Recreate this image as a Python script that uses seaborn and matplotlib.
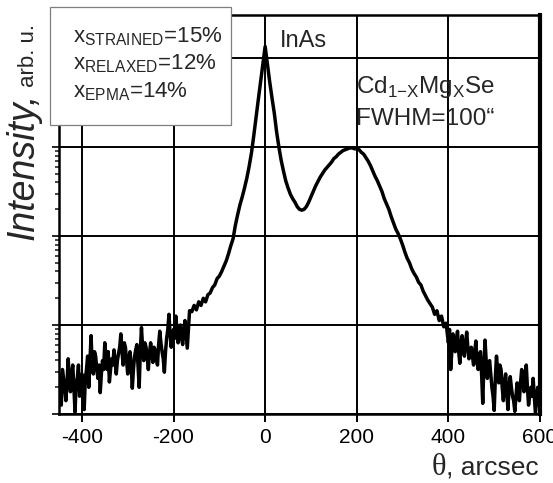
import numpy as np
import matplotlib
matplotlib.use("Agg")
import matplotlib.pyplot as plt
import seaborn as sns
from matplotlib.patches import Rectangle

# ---------------- data ----------------
# log10(intensity), in three scan segments
left_start, left_step = -450.0, 2.5
log_left_noise = [
    0.45, 0.25, 0.10, 0.50, 0.40, 0.30, 0.15, 0.35, 0.62, 0.40,
    0.25, 0.45, 0.55, 0.30, 0.02, 0.35, 0.40, 0.55, 0.20, 0.35,
    0.45, 0.25, 0.05, 0.40, 0.50, 0.65, 0.30, 0.60, 0.88, 0.55,
    0.45, 0.70, 0.65, 0.50, 0.40, 0.55, 0.24, 0.45, 0.60, 0.50,
    0.80, 0.65, 0.50, 0.70, 0.36, 0.50, 0.62, 0.55, 0.72, 0.60,
    0.45, 0.60, 0.68, 0.75, 0.90, 0.70, 0.55, 0.80, 0.75, 0.60,
    0.45, 0.62, 0.70, 0.55, 0.29, 0.50, 0.65, 0.72, 0.78, 0.55,
    0.30, 0.70, 0.97, 0.75, 0.60, 0.80, 0.75, 0.65, 0.50, 0.68,
    0.80, 0.70, 0.58, 0.75, 0.72, 0.62, 0.55, 0.78, 0.93, 0.80,
    0.70, 0.62, 0.47, 0.70, 0.85, 0.95, 1.12, 0.90, 0.75, 0.88,
    0.95, 0.85, 1.10, 0.95, 0.80, 0.92, 1.00, 0.85, 0.78, 0.95,
    1.05, 0.90, 0.74, 0.95, 1.16,
]
mid_start, mid_step = -160.0, 5.0
log_peaks = [
    1.15, 1.22, 1.17, 1.26, 1.22, 1.30, 1.26, 1.34, 1.36, 1.42,
    1.45, 1.52, 1.55, 1.60, 1.66, 1.72, 1.80, 1.89, 1.97, 2.12,
    2.24, 2.35, 2.44, 2.54, 2.65, 2.78, 2.93, 3.12, 3.33, 3.53,
    3.73, 3.93, 4.13,
    3.93, 3.73, 3.55, 3.38, 3.17, 3.00, 2.85, 2.73, 2.62, 2.54,
    2.47, 2.42, 2.38, 2.33, 2.30, 2.29, 2.30, 2.33, 2.38, 2.44,
    2.50, 2.56, 2.61, 2.66, 2.70, 2.74, 2.77, 2.80, 2.83, 2.87,
    2.89, 2.92, 2.94, 2.96, 2.97, 2.98, 2.99, 2.99, 2.98, 2.98,
    2.97, 2.94, 2.92, 2.88, 2.84, 2.79, 2.73, 2.67, 2.62, 2.56,
    2.50, 2.42, 2.36, 2.30, 2.22, 2.15, 2.08, 2.03, 1.97, 1.90,
    1.82, 1.75, 1.70, 1.63, 1.58, 1.54, 1.48, 1.45, 1.38, 1.33,
    1.28, 1.24, 1.20, 1.12, 1.16, 1.05, 1.10, 0.98, 1.02,
]
right_start, right_step = 400.0, 2.5
log_right_noise = [
    0.80, 0.95, 0.50, 0.70, 0.90, 0.75, 0.70, 0.85, 0.93, 0.70,
    0.57, 0.80, 0.88, 0.72, 0.65, 0.80, 0.92, 0.75, 0.62, 0.70,
    0.75, 0.65, 0.55, 0.70, 0.82, 0.60, 0.50, 0.65, 0.70, 0.45,
    0.12, 0.55, 0.83, 0.60, 0.40, 0.55, 0.60, 0.45, 0.30, 0.20,
    0.04, 0.40, 0.65, 0.50, 0.35, 0.55, 0.50, 0.30, 0.15, 0.35,
    0.45, 0.25, 0.05, 0.30, 0.42, 0.30, 0.20, 0.15, 0.03, 0.20,
    0.35, 0.30, 0.15, 0.35, 0.50, 0.40, 0.25, 0.45, 0.55, 0.30,
    0.10, 0.20, 0.30, 0.20, 0.40, 0.20, 0.01, 0.15, 0.30, 0.15,
    0.05,
]

theta = np.concatenate([
    left_start + left_step * np.arange(len(log_left_noise)),
    mid_start + mid_step * np.arange(len(log_peaks)),
    right_start + right_step * np.arange(len(log_right_noise)),
])
log_intensity = np.array(log_left_noise + log_peaks + log_right_noise)
intensity = 10.0 ** log_intensity

x_ticks = [-400, -200, 0, 200, 400, 600]
x_tick_labels = ["-400", "-200", "0", "200", "400", "600"]
y_decades = [1, 10, 100, 1000, 10000]

box_lines = [r"x$_{\mathregular{STRAINED}}$=15%",
             r"x$_{\mathregular{RELAXED}}$=12%",
             r"x$_{\mathregular{EPMA}}$=14%"]

# ---------------- style ----------------
sns.set_style("ticks")
plt.rcParams["font.family"] = ["Liberation Sans", "DejaVu Sans"]
plt.rcParams["mathtext.fontset"] = "custom"
plt.rcParams["mathtext.rm"] = "Liberation Sans"
plt.rcParams["axes.unicode_minus"] = False

W, H = 553, 483
fig = plt.figure(figsize=(W / 100, H / 100), dpi=100)
ax = fig.add_axes([59 / W, 69 / H, 481 / W, 399 / H])

sns.lineplot(x=theta, y=intensity, ax=ax, color="black", linewidth=2.5,
             estimator=None, sort=False, zorder=3)

ax.set_yscale("log")
ax.set_xlim(-450, 600)
ax.set_ylim(1, 10 ** (399 / 89))
ax.set_xticks(x_ticks)
ax.set_xticklabels(x_tick_labels)
ax.set_yticks(y_decades)
ax.set_yticklabels([])
ax.set_xlabel("")
ax.set_ylabel("")

ax.grid(True, which="major", color="black", linewidth=1.4, zorder=1)
ax.tick_params(axis="x", direction="out", length=6, width=1.4,
               labelsize=15, pad=4, colors="black")
ax.tick_params(axis="y", which="major", direction="out", length=5, width=1.4,
               labelleft=False)
ax.tick_params(axis="y", which="minor", direction="out", length=3, width=1.2,
               labelleft=False)
ax.tick_params(axis="x", which="minor", bottom=False)

for side in ["left", "bottom", "top"]:
    ax.spines[side].set_linewidth(1.8)
    ax.spines[side].set_color("black")
ax.spines["right"].set_linewidth(3)
ax.spines["right"].set_color("black")
ax.spines["top"].set_visible(True)
ax.spines["right"].set_visible(True)


def fx(px):
    return px / W


def fy(py):
    return (H - py) / H


# y-axis label (two sizes)
fig.text(fx(34), fy(93), "Intensity,", rotation=90, rotation_mode="anchor",
         ha="right", va="baseline", fontsize=27, style="italic")
fig.text(fx(34), fy(87), "arb. u.", rotation=90, rotation_mode="anchor",
         ha="left", va="baseline", fontsize=16)

# x-axis label
t_arc = fig.text(fx(539), fy(475), ", arcsec", ha="right", va="baseline",
                 fontsize=19)
fig.canvas.draw()
bb = t_arc.get_window_extent()
fig.text(bb.x0 / W, fy(475), "θ", ha="right", va="baseline", fontsize=22,
         family="Liberation Serif")

# box in the upper left
rect = Rectangle((fx(50), fy(125)), 181 / W, 118 / H, transform=fig.transFigure,
                 facecolor="white", edgecolor="#7f7f7f", linewidth=0.9, zorder=5)
fig.patches.append(rect)
for i, line in enumerate(box_lines):
    fig.text(fx(73), fy(42 + 27.5 * i), line, ha="left", va="baseline",
             fontsize=16, zorder=6)

# annotations
fig.text(fx(280), fy(47), "InAs", ha="left", va="baseline", fontsize=17)
fig.text(fx(356), fy(93), r"Cd$_{\mathregular{1{-}X}}$Mg$_{\mathregular{X}}$Se",
         ha="left", va="baseline", fontsize=17.5)
fig.text(fx(356), fy(125), "FWHM=100\u201c", ha="left", va="baseline",
         fontsize=17.5)

fig.savefig("out.png", dpi=100)
